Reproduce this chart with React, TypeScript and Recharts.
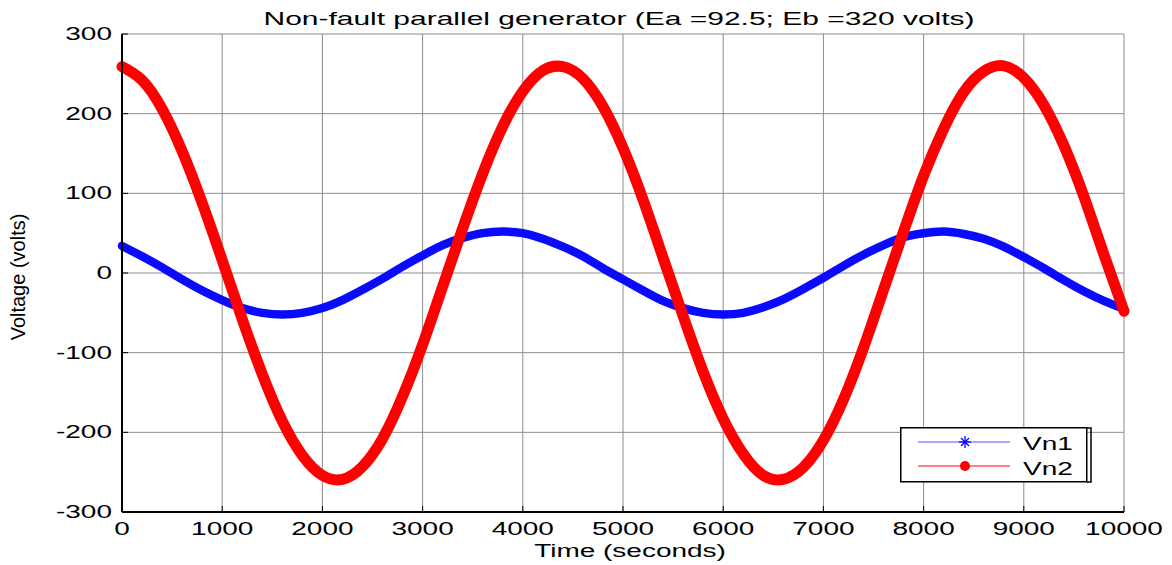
import React from "react";
import { LineChart, Line, XAxis, YAxis, CartesianGrid, Legend, Label } from "recharts";

const timeTicks = [0, 1000, 2000, 3000, 4000, 5000, 6000, 7000, 8000, 9000, 10000];
const voltTicks = [-300, -200, -100, 0, 100, 200, 300];

// samples every 200 s
const times = [
  0, 200, 400, 600, 800, 1000, 1200, 1400, 1600, 1800, 2000, 2200, 2400, 2600, 2800, 3000, 3200,
  3400, 3600, 3800, 4000, 4200, 4400, 4600, 4800, 5000, 5200, 5400, 5600, 5800, 6000, 6200, 6400,
  6600, 6800, 7000, 7200, 7400, 7600, 7800, 8000, 8200, 8400, 8600, 8800, 9000, 9200, 9400, 9600,
  9800, 10000,
];
const vn1 = [
  34, 21, 7, -8, -22, -34, -44, -50, -52, -50, -44, -34, -21, -7, 8, 22, 35,
  44, 50, 52, 50, 43, 33, 21, 6, -8, -22, -35, -44, -50, -52, -50, -43,
  -33, -20, -6, 9, 23, 35, 45, 50, 52, 49, 43, 33, 20, 6, -9, -23,
  -35, -45,
];
const vn2 = [
  259, 242, 206, 153, 88, 16, -58, -127, -186, -229, -254, -259, -243, -208, -155, -90, -17,
  56, 125, 184, 228, 254, 259, 244, 209, 157, 92, 19, -54, -124, -183, -227, -254,
  -259, -244, -210, -159, -94, -21, 52, 122, 181, 227, 253, 260, 245, 211, 160, 96,
  23, -48,
];

const data = times.map((t, i) => ({ t, vn1: vn1[i], vn2: vn2[i] }));

const FONT = "'Liberation Sans', Arial, Helvetica, sans-serif";
const SX = 1.6; // the reference text is stretched sideways

function XTick({ x, y, payload }: any) {
  return (
    <text transform={`translate(${x},${y + 22}) scale(${SX},1)`} textAnchor="middle"
      fontSize={17.5} fontFamily={FONT} fill="#000">
      {payload.value}
    </text>
  );
}

function YTick({ x, y, payload }: any) {
  return (
    <text transform={`translate(${x},${y + 6}) scale(${SX},1)`} textAnchor="end"
      fontSize={17.5} fontFamily={FONT} fill="#000">
      {payload.value}
    </text>
  );
}

function LegendBox() {
  return (
    <svg width={196} height={60} style={{ display: "block" }}>
      <rect x={0.75} y={0.75} width={186} height={54} fill="#fff" stroke="#000" strokeWidth={1.5} />
      <polyline points="187,1 191,1 191,55 187,55" fill="none" stroke="#000" strokeWidth={1.5} />
      <line x1={18} y1={15} x2={110} y2={15} stroke="#5050ff" strokeWidth={1} />
      <g stroke="#0000ff" strokeWidth={1.3}>
        <line x1={65} y1={9} x2={65} y2={21} />
        <line x1={59} y1={15} x2={71} y2={15} />
        <line x1={61} y1={11} x2={69} y2={19} />
        <line x1={61} y1={19} x2={69} y2={11} />
      </g>
      <line x1={18} y1={39} x2={110} y2={39} stroke="#ff0000" strokeWidth={1} />
      <circle cx={65} cy={39} r={5} fill="#ff0000" />
      <text transform={`translate(123,23) scale(${SX},1)`} fontSize={17.5} fontFamily={FONT}>Vn1</text>
      <text transform={`translate(123,48) scale(${SX},1)`} fontSize={17.5} fontFamily={FONT}>Vn2</text>
    </svg>
  );
}

export default function App() {
  return (
    <div style={{ position: "relative", width: 1160, height: 557 }}>
      <LineChart width={1160} height={557} data={data}
        margin={{ top: 26, right: 44, bottom: 23, left: 0 }}>
        <CartesianGrid stroke="#8c8c8c" strokeWidth={1} />
        <XAxis dataKey="t" type="number" domain={[0, 10000]} ticks={timeTicks} height={30}
          axisLine={{ stroke: "#000", strokeWidth: 2 }} tickLine={{ stroke: "#000" }}
          tickSize={-6} tickMargin={7} tick={<XTick />} interval={0}>
          <Label content={({ viewBox }: any) => (
            <text transform={`translate(${viewBox.x + viewBox.width / 2 + 7},${viewBox.y + 45}) scale(${SX},1)`}
              textAnchor="middle" fontSize={17.5} fontFamily={FONT} fill="#000">
              Time (seconds)
            </text>
          )} />
        </XAxis>
        <XAxis xAxisId="top" orientation="top" type="number" domain={[0, 10000]} ticks={timeTicks}
          height={0} tick={false} tickSize={-5} axisLine={{ stroke: "#000", strokeWidth: 1.5 }}
          tickLine={{ stroke: "#000" }} />
        <YAxis type="number" domain={[-300, 300]} ticks={voltTicks} width={114} interval={0}
          axisLine={{ stroke: "#000", strokeWidth: 2 }} tickLine={{ stroke: "#000" }}
          tickSize={-6} tickMargin={16} tick={<YTick />}>
          <Label content={() => (
            <text transform="translate(17,269) rotate(-90)" textAnchor="middle"
              fontSize={20} fontFamily={FONT} fill="#000">
              Voltage (volts)
            </text>
          )} />
        </YAxis>
        <YAxis yAxisId="right" orientation="right" type="number" domain={[-300, 300]} ticks={voltTicks}
          width={0} tick={false} tickSize={-5} axisLine={{ stroke: "#000", strokeWidth: 1.5 }}
          tickLine={{ stroke: "#000" }} />
        <Line dataKey="vn1" type="natural" stroke="#0a0aff" strokeWidth={8.5} dot={false}
          strokeLinecap="round" strokeLinejoin="round" isAnimationActive={false} />
        <Line dataKey="vn2" type="natural" stroke="#ff0000" strokeWidth={11} dot={false}
          strokeLinecap="round" strokeLinejoin="round" isAnimationActive={false} />
        <Legend layout="horizontal" verticalAlign="middle" align="center"
          wrapperStyle={{ left: 892, top: 419, width: 196, height: 60 }}
          content={() => <LegendBox />} />
      </LineChart>
      <svg width={1160} height={26} style={{ position: "absolute", left: 0, top: 0, pointerEvents: "none" }}>
        <text transform="translate(611,17) scale(1.62,1)" textAnchor="middle"
          fontSize={18.5} fontFamily={FONT} fill="#000">
          Non-fault parallel generator (Ea =92.5; Eb =320 volts)
        </text>
      </svg>
    </div>
  );
}
